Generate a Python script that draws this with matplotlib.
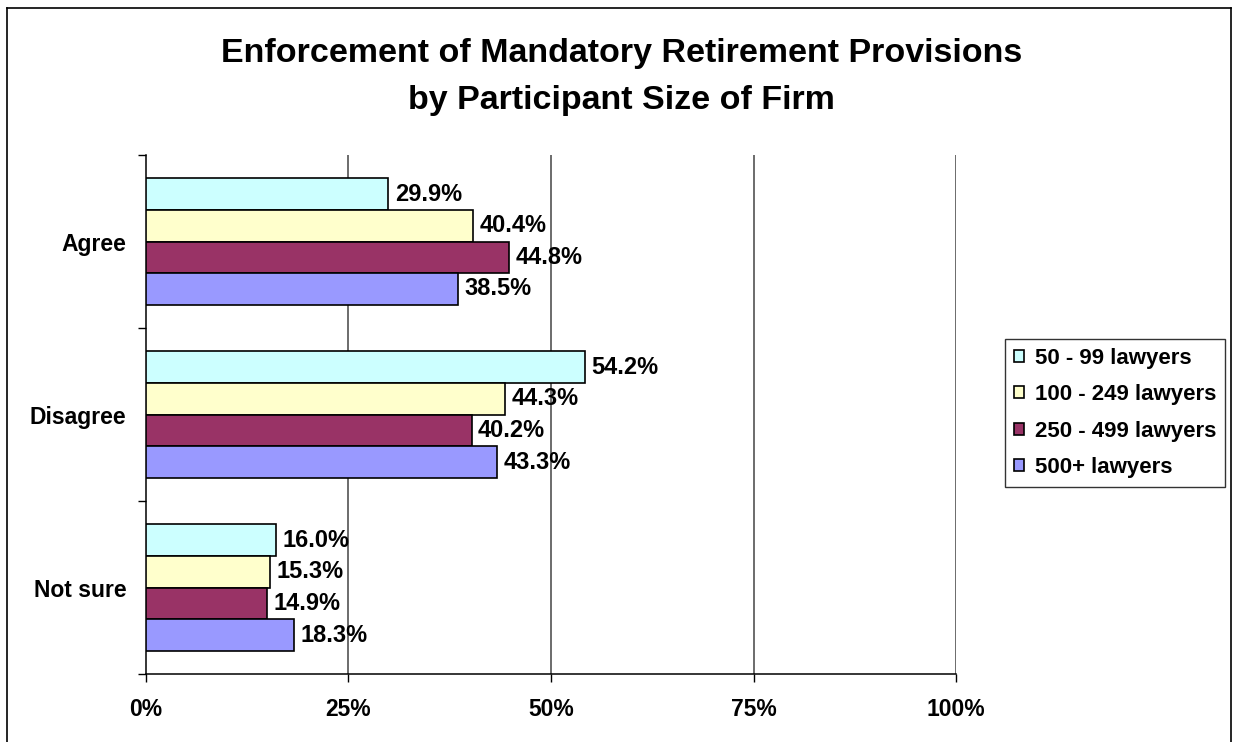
import matplotlib
matplotlib.use("Agg")
import matplotlib.pyplot as plt
from matplotlib.lines import Line2D
from matplotlib.ticker import FixedLocator, FuncFormatter
import numpy as np

plt.rcParams["font.family"] = ["Liberation Sans", "DejaVu Sans"]
plt.rcParams["font.weight"] = "bold"

categories = ["Agree", "Disagree", "Not sure"]
series_names = ["50 - 99 lawyers", "100 - 249 lawyers", "250 - 499 lawyers", "500+ lawyers"]
values = [
    [29.9, 54.2, 16.0],
    [40.4, 44.3, 15.3],
    [44.8, 40.2, 14.9],
    [38.5, 43.3, 18.3],
]
colors = ["#CCFFFF", "#FFFFCC", "#993366", "#9999FF"]
x_ticks = [0, 25, 50, 75, 100]

fig = plt.figure(figsize=(12.36, 7.42), dpi=100)
ax = fig.add_axes([0.1181, 0.0916, 0.6554, 0.6995])

bar_h = 0.183
y = np.arange(len(categories))
for i, (name, vals, c) in enumerate(zip(series_names, values, colors)):
    pos = y + (i - 1.5) * bar_h
    ax.barh(pos, vals, height=bar_h, color=c, edgecolor="black", linewidth=1.2,
            label=name, zorder=3)
    for p, v in zip(pos, vals):
        ax.text(v + 0.8, p, f"{v:.1f}%", va="center", ha="left",
                fontsize=17, fontweight="bold", zorder=4)

ax.set_xlim(0, 100)
ax.set_ylim(2.5, -0.5)

# category boundaries get the tick marks, names sit between them
ax.yaxis.set_major_locator(FixedLocator([-0.5, 0.5, 1.5, 2.5]))
ax.yaxis.set_major_formatter(FuncFormatter(lambda v, p: ""))
ax.yaxis.set_minor_locator(FixedLocator(y))
ax.set_yticks(y, categories, minor=True)
ax.tick_params(axis="y", which="major", length=6, width=1, direction="out")
ax.tick_params(axis="y", which="minor", length=0, pad=14, labelsize=16.5)

ax.set_xticks(x_ticks, [f"{t}%" for t in x_ticks])
ax.tick_params(axis="x", length=6, width=1, direction="out", pad=11, labelsize=16.5)
for t in x_ticks[1:]:
    ax.axvline(t, color="#444444", linewidth=1.1, zorder=1)

for s in ("top", "right"):
    ax.spines[s].set_visible(False)
for s in ("left", "bottom"):
    ax.spines[s].set_linewidth(1.1)

fig.suptitle("Enforcement of Mandatory Retirement Provisions\nby Participant Size of Firm",
             x=0.503, y=0.949, fontsize=24.5, fontweight="bold", linespacing=1.68)

leg = ax.legend(loc="center left", bbox_to_anchor=(1.0605, 0.503), frameon=True,
                fancybox=False, edgecolor="black", fontsize=16, borderaxespad=0,
                handlelength=0.45, handleheight=0.45, handletextpad=0.5,
                labelspacing=0.7, borderpad=0.4)
leg.get_frame().set_linewidth(1.0)

# outer chart border (bottom edge runs off the canvas)
fig.add_artist(Line2D([0.0057, 0.0057], [-0.01, 0.989], color="black", linewidth=1.2))
fig.add_artist(Line2D([0.0057, 0.9963], [0.989, 0.989], color="black", linewidth=1.2))
fig.add_artist(Line2D([0.9963, 0.9963], [-0.01, 0.989], color="black", linewidth=1.2))

fig.savefig("out.png", dpi=100)
